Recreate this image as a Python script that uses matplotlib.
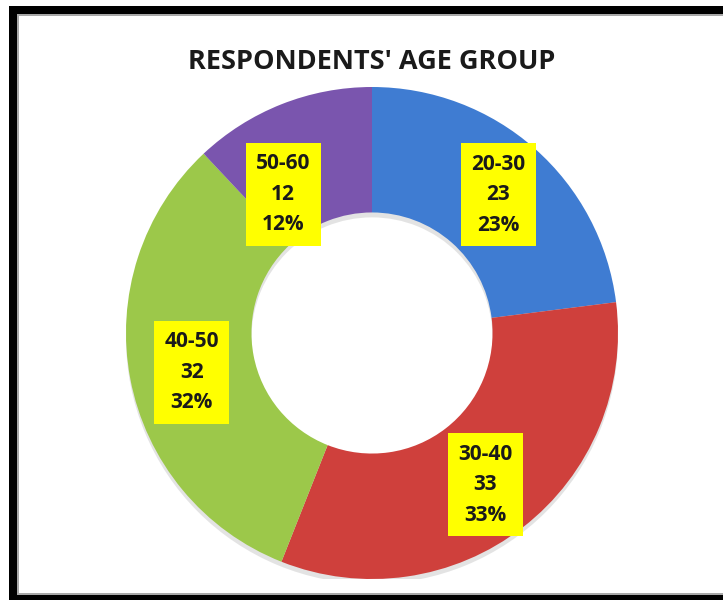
import matplotlib
matplotlib.use("Agg")
import matplotlib.pyplot as plt
from matplotlib.patches import Rectangle, Wedge
import numpy as np

plt.rcParams['font.family'] = ['Open Sans', 'DejaVu Sans']

# age groups and number of respondents
groups = ['20-30', '30-40', '40-50', '50-60']
counts = [23, 33, 32, 12]
colors = ['#3f7cd2', '#cf403c', '#9cc84a', '#7a55ae']

W, H = 723, 600
fig = plt.figure(figsize=(W / 100, H / 100), dpi=100)

# frame around the chart area (black outer band, thin grey inner line)
def px_rect(x0, y0, x1, y1, **kw):
    r = Rectangle((x0 / W, 1 - y1 / H), (x1 - x0) / W, (y1 - y0) / H,
                  transform=fig.transFigure, zorder=-5, **kw)
    fig.patches.append(r)

px_rect(9, 6, W + 20, 600, facecolor='black', edgecolor='none')
px_rect(17, 14, W + 20, 595, facecolor='#a8a8a8', edgecolor='none')
px_rect(19, 16, W + 20, 593, facecolor='white', edgecolor='none')

fig.text(372 / W, 1 - 62 / H, "RESPONDENTS' AGE GROUP", ha='center', va='center',
         fontsize=19.5, fontweight='bold', color='#1a1a1a')

# donut placed so the ring is centred at (372, 333) px with radius ~246 px
cx, cy, R = 372, 333, 246
ax = fig.add_axes([(cx - R) / W, (H - cy - R) / H, 2 * R / W, 2 * R / H])
ax.set_zorder(1)
ax.patch.set_visible(False)

# soft shadow under the ring
ax.add_patch(Wedge((0.0, -0.02), 1.0, 0, 360, width=0.51,
                   facecolor='#b0b0b0', edgecolor='none', alpha=0.35, zorder=0))

wedges, _ = ax.pie(counts, colors=colors, startangle=90, counterclock=False,
                   radius=1.0, wedgeprops=dict(width=0.51, edgecolor='none'))
for w in wedges:
    w.set_zorder(1)

ax.set_xlim(-1, 1)
ax.set_ylim(-1, 1)
ax.axis('off')

# label boxes: radial distance and small angle nudge (deg) per slice
total = sum(counts)
dists = [0.76, 0.77, 0.75, 0.67]
nudges = [-1, -1, 1.5, 11]
for w, g, c, d, n in zip(wedges, groups, counts, dists, nudges):
    ang = np.deg2rad((w.theta1 + w.theta2) / 2 + n)
    x, y = d * np.cos(ang), d * np.sin(ang)
    pct = round(100 * c / total)
    ax.text(x, y, f"{g}\n{c}\n{pct}%", ha='center', va='center',
            fontsize=15, fontweight='bold', color='#1a1a1a', linespacing=1.6,
            bbox=dict(boxstyle='square,pad=0.5', facecolor='#ffff00',
                      edgecolor='none'), zorder=3)

fig.savefig('out.png', dpi=100)
